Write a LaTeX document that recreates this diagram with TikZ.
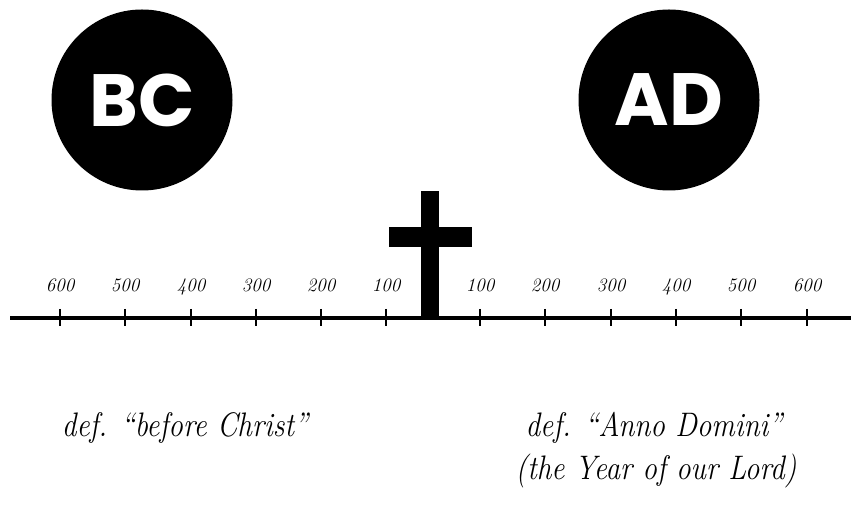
\documentclass[tikz,border=0pt]{standalone}
\usepackage{fontspec}
\usepackage{graphicx}
\newfontfamily\popfont{Poppins}
\newcommand{\narrowtxt}[1]{\scalebox{0.86}[1]{#1}}
\begin{document}
\begin{tikzpicture}[x=1pt,y=1pt,
  era/.style={circle,fill=black,minimum size=181pt,inner sep=0pt,text=white,font=\popfont\bfseries\fontsize{74}{74}\selectfont},
  yr/.style={font=\itshape\fontsize{19}{19}\selectfont,inner sep=0pt,anchor=base},
  defn/.style={font=\itshape\fontsize{34}{40}\selectfont,inner sep=0pt,anchor=base},
  tick/.style={line width=1.4pt}]
\useasboundingbox (0,0) rectangle (851,508);
\node[era] (bc) at (142,408) {BC};
\node[era] (ad) at (669,408) {AD};
% timeline
\coordinate (tl) at (10,190);
\coordinate (tr) at (851,190);
\draw[line width=4.5pt] (tl) -- (tr);
% cross
\fill (421,190) rectangle (439,317);
\fill (389,261) rectangle (472,281);
% ticks and labels
\foreach \x/\l [count=\i] in {60/600,125/500,191/400,256/300,321/200,386/100,480/100,545/200,611/300,676/400,741/500,807/600}{
  \coordinate (t\i) at (\x,199);
  \coordinate (b\i) at (\x,182);
  \draw[tick] (t\i) -- (b\i);
  \node[yr] (y\i) at (\x,216) {\oldstylenums{\l}};
}
\node[defn] (dbc) at (185,71) {\narrowtxt{def. ``before Christ''}};
\node[defn] (dad) at (654,71) {\narrowtxt{def. ``Anno Domini''}};
\node[defn] (dad2) at (656,28) {\narrowtxt{(the Year of our Lord)}};
\end{tikzpicture}
\end{document}
